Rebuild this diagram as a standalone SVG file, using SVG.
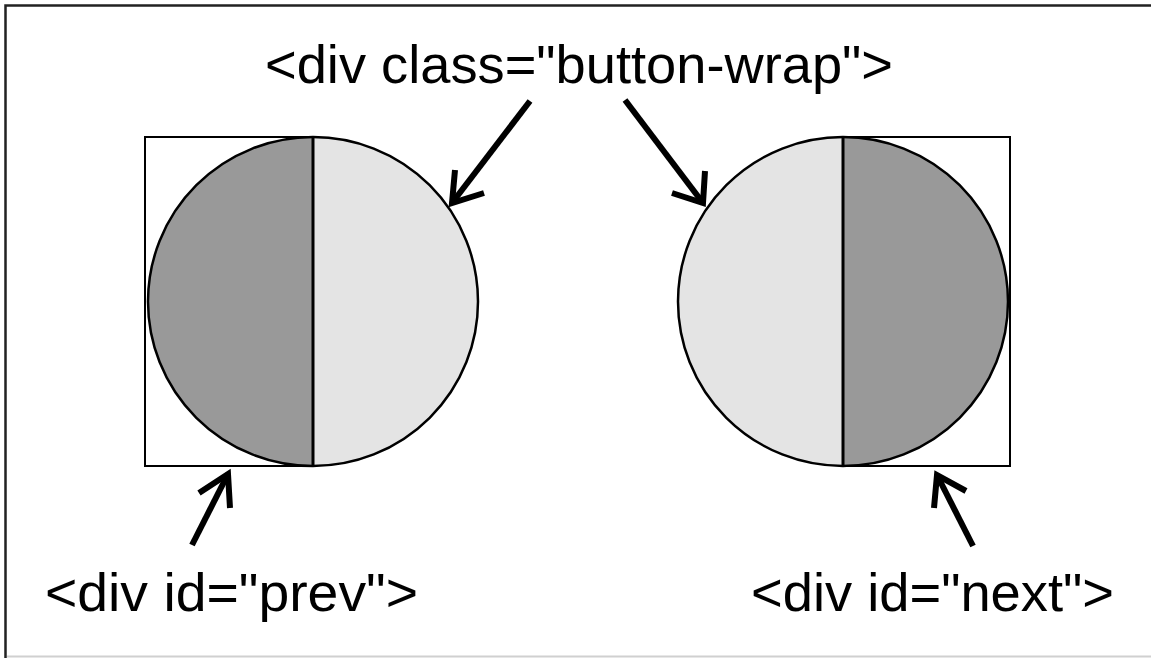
<svg xmlns="http://www.w3.org/2000/svg" width="1151" height="658" viewBox="0 0 1151 658">
<style>
.lbl{font-family:"Liberation Sans",Arial,sans-serif;font-size:53px;fill:#000}
.box{fill:#fff;stroke:#000;stroke-width:2}
.dark{fill:#999999;stroke:none}
.light{fill:#e4e4e4;stroke:none}
.ring{fill:none;stroke:#000;stroke-width:2.5}
.mid{stroke:#000;stroke-width:3}
.arr{fill:none;stroke:#000;stroke-width:6;stroke-linecap:butt;stroke-linejoin:miter}
</style>
<rect x="0" y="0" width="1151" height="658" fill="#fff"/>
<g id="frame">
<path d="M5.5,658 V5.5 H1151" fill="none" stroke="#222" stroke-width="2.5"/>
<line x1="7" y1="656.5" x2="1151" y2="656.5" stroke="#d0d0d0" stroke-width="2"/>
</g>
<g id="prev">
<rect class="box" x="145" y="137" width="168" height="329"/>
<path class="dark" d="M313,137 A165,164.5 0 0 0 313,466 Z"/>
<path class="light" d="M313,137 A165,164.5 0 0 1 313,466 Z"/>
<ellipse class="ring" cx="313" cy="301.5" rx="165" ry="164.5"/>
<line class="mid" x1="313" y1="137" x2="313" y2="466"/>
</g>
<g id="next">
<rect class="box" x="843" y="137" width="167" height="329"/>
<path class="light" d="M843,137 A165,164.5 0 0 0 843,466 Z"/>
<path class="dark" d="M843,137 A165,164.5 0 0 1 843,466 Z"/>
<ellipse class="ring" cx="843" cy="301.5" rx="165" ry="164.5"/>
<line class="mid" x1="843" y1="137" x2="843" y2="466"/>
</g>
<g id="labels">
<text class="lbl" x="265" y="83" textLength="628" lengthAdjust="spacingAndGlyphs">&lt;div class="button-wrap"&gt;</text>
<text class="lbl" x="45" y="611" textLength="373" lengthAdjust="spacingAndGlyphs">&lt;div id="prev"&gt;</text>
<text class="lbl" x="751" y="611" textLength="363" lengthAdjust="spacingAndGlyphs">&lt;div id="next"&gt;</text>
</g>
<g id="connectors">
<line class="arr" x1="530" y1="101" x2="452" y2="203"/>
<path class="arr" d="M455,170 L452,203 L484,193"/>
<line class="arr" x1="625" y1="100" x2="703" y2="203"/>
<path class="arr" d="M705,171 L703,203 L672,193"/>
<line class="arr" x1="192" y1="545" x2="228" y2="474"/>
<path class="arr" d="M199,493 L228,474 L230,508"/>
<line class="arr" x1="973" y1="546" x2="937" y2="475"/>
<path class="arr" d="M966,491 L937,475 L934,508"/>
</g>
</svg>
